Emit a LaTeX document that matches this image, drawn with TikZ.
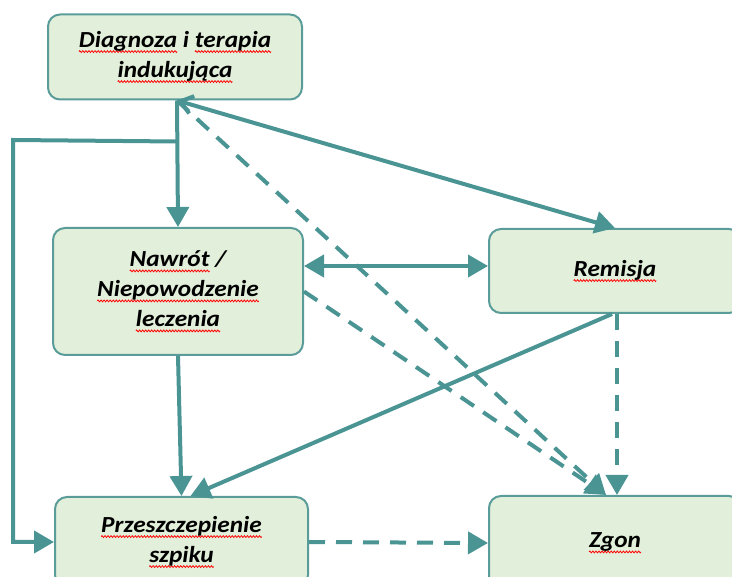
\documentclass[tikz,border=0pt]{standalone}
\usepackage{fontspec}
\setmainfont{Carlito}[FakeStretch=1.1]
\usetikzlibrary{arrows.meta,calc}
\definecolor{tealline}{HTML}{4A9494}
\definecolor{boxfill}{HTML}{E2EFDA}
\definecolor{boxline}{HTML}{5A9C99}
\newsavebox\sqtmp
\newcommand\wavepiece{\tikz[x=1pt,y=1pt,baseline=0pt]{\useasboundingbox (0,-1) rectangle (3,1);
  \draw[red,line width=0.8pt,solid,rounded corners=0pt,-,fill=none] (0,0) sin (0.75,0.9) cos (1.5,0) sin (2.25,-0.9) cos (3,0);}}
\newcommand\sq[1]{\sbox\sqtmp{#1}\rlap{\lower4pt\hbox to\wd\sqtmp{\xleaders\hbox{\wavepiece}\hfill}}\usebox\sqtmp}
\tikzset{
  box/.style={draw=boxline, line width=2pt, fill=boxfill, rounded corners=12pt,
    align=center, inner sep=0pt, font=\fontsize{23}{30}\selectfont\bfseries\itshape},
  conn/.style={draw=tealline, line width=4pt, -{Triangle[length=20pt,width=22pt]}},
  dconn/.style={conn, dash pattern=on 16pt off 11pt},
}
\begin{document}
\begin{tikzpicture}[x=1pt,y=-1pt]
\useasboundingbox (0,0) rectangle (732,577);
\node[box, minimum width=254pt, minimum height=85pt] (diag) at (175,57)
  {\sq{Diagnoza} i \sq{terapia}\\\sq{indukująca}};
\node[box, minimum width=250pt, minimum height=127pt] (naw) at (178,291.5)
  {\sq{Nawrót} /\\\sq{Niepowodzenie}\\\sq{leczenia}};
\node[box, minimum width=252pt, minimum height=84pt] (rem) at (615,271)
  {\sq{Remisja}};
\node[box, minimum width=253pt, minimum height=90pt] (prz) at (181.5,542)
  {\sq{Przeszczepienie}\\\sq{szpiku}};
\node[box, minimum width=252pt, minimum height=94pt] (zgon) at (615,543)
  {\sq{Zgon}};

\coordinate (hub) at ($(diag.south)+(2,0)$);
\coordinate (split) at ($(hub)+(0,41)$);
\coordinate (lft) at (13,140);
\coordinate (zt) at ($(zgon.north)+(-9,0)$);
\coordinate (dd) at (0,266);

\draw[conn] (hub) -- (naw.north);
\draw[conn] (split) -- (lft) |- (prz.west);
\draw[conn, {Straight Barb[length=12pt,width=18pt]}-{Triangle[length=20pt,width=22pt]}] (hub) -- (rem.north);
\draw[dconn] (hub) -- (zt);
\draw[conn, {Triangle[length=20pt,width=22pt]}-{Triangle[length=20pt,width=22pt]}] (naw.east |- dd) -- (rem.west |- dd);
\draw[dconn] (naw.east) -- (zt);
\draw[conn] (naw.south) -- (prz.north);
\draw[conn] ($(rem.south)+(-3,0)$) -- ($(prz.north)+(9,0)$);
\draw[dconn] ($(rem.south)+(2,0)$) -- ($(zgon.north)+(2,0)$);
\draw[dconn] (prz.east) -- (zgon.west);
\end{tikzpicture}
\end{document}
